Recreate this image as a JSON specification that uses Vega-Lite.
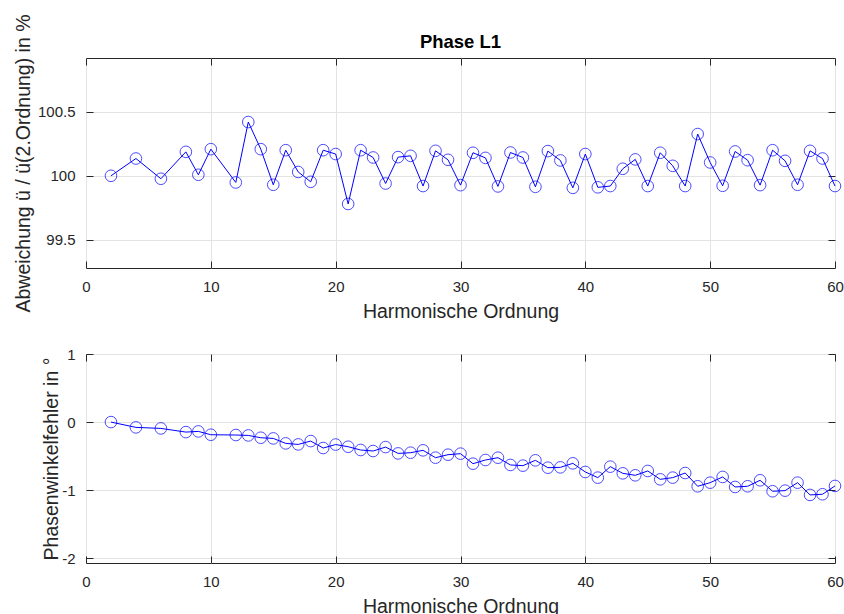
{
  "$schema": "https://vega.github.io/schema/vega-lite/v6.json",
  "background": "white",
  "padding": {"left": 12, "top": 13, "right": 8, "bottom": 0},
  "bounds": "flush",
  "spacing": 86,
  "config": {
    "font": "Liberation Sans",
    "view": {"stroke": "#262626", "strokeWidth": 1},
    "axis": {
      "labelFont": "Liberation Sans",
      "titleFont": "Liberation Sans",
      "labelFontSize": 15,
      "titleFontSize": 19.5,
      "titleFontWeight": "normal",
      "labelColor": "#262626",
      "titleColor": "#262626",
      "labelFlush": false,
      "domain": false,
      "tickColor": "#262626",
      "tickSize": -7,
      "gridColor": "#e3e3e3",
      "gridWidth": 1
    }
  },
  "datasets": {
    "h": [
      {"n": 2, "abw": 100.00, "phase": 0.00},
      {"n": 4, "abw": 100.135, "phase": -0.078},
      {"n": 6, "abw": 99.977, "phase": -0.093},
      {"n": 8, "abw": 100.187, "phase": -0.147},
      {"n": 9, "abw": 100.008, "phase": -0.137},
      {"n": 10, "abw": 100.208, "phase": -0.186},
      {"n": 12, "abw": 99.948, "phase": -0.19},
      {"n": 13, "abw": 100.42, "phase": -0.196},
      {"n": 14, "abw": 100.208, "phase": -0.23},
      {"n": 15, "abw": 99.93, "phase": -0.24},
      {"n": 16, "abw": 100.2, "phase": -0.313},
      {"n": 17, "abw": 100.03, "phase": -0.328},
      {"n": 18, "abw": 99.953, "phase": -0.279},
      {"n": 19, "abw": 100.2, "phase": -0.381},
      {"n": 20, "abw": 100.17, "phase": -0.33},
      {"n": 21, "abw": 99.78, "phase": -0.362},
      {"n": 22, "abw": 100.2, "phase": -0.41},
      {"n": 23, "abw": 100.143, "phase": -0.425},
      {"n": 24, "abw": 99.94, "phase": -0.367},
      {"n": 25, "abw": 100.146, "phase": -0.46},
      {"n": 26, "abw": 100.156, "phase": -0.45},
      {"n": 27, "abw": 99.92, "phase": -0.415},
      {"n": 28, "abw": 100.195, "phase": -0.523},
      {"n": 29, "abw": 100.125, "phase": -0.479},
      {"n": 30, "abw": 99.927, "phase": -0.464},
      {"n": 31, "abw": 100.18, "phase": -0.611},
      {"n": 32, "abw": 100.14, "phase": -0.557},
      {"n": 33, "abw": 99.917, "phase": -0.523},
      {"n": 34, "abw": 100.182, "phase": -0.63},
      {"n": 35, "abw": 100.143, "phase": -0.64},
      {"n": 36, "abw": 99.914, "phase": -0.562},
      {"n": 37, "abw": 100.193, "phase": -0.67},
      {"n": 38, "abw": 100.12, "phase": -0.665},
      {"n": 39, "abw": 99.906, "phase": -0.606},
      {"n": 40, "abw": 100.17, "phase": -0.733},
      {"n": 41, "abw": 99.91, "phase": -0.816},
      {"n": 42, "abw": 99.92, "phase": -0.655},
      {"n": 43, "abw": 100.055, "phase": -0.753},
      {"n": 44, "abw": 100.128, "phase": -0.782},
      {"n": 45, "abw": 99.92, "phase": -0.718},
      {"n": 46, "abw": 100.18, "phase": -0.841},
      {"n": 47, "abw": 100.078, "phase": -0.816},
      {"n": 48, "abw": 99.92, "phase": -0.748},
      {"n": 49, "abw": 100.326, "phase": -0.943},
      {"n": 50, "abw": 100.104, "phase": -0.89},
      {"n": 51, "abw": 99.922, "phase": -0.806},
      {"n": 52, "abw": 100.19, "phase": -0.953},
      {"n": 53, "abw": 100.122, "phase": -0.943},
      {"n": 54, "abw": 99.927, "phase": -0.855},
      {"n": 55, "abw": 100.2, "phase": -1.016},
      {"n": 56, "abw": 100.117, "phase": -1.007},
      {"n": 57, "abw": 99.93, "phase": -0.89},
      {"n": 58, "abw": 100.195, "phase": -1.07},
      {"n": 59, "abw": 100.135, "phase": -1.06},
      {"n": 60, "abw": 99.92, "phase": -0.938}
    ]
  },
  "vconcat": [
    {
      "width": 749,
      "height": 210,
      "title": {"text": "Phase L1", "fontSize": 18.5, "fontWeight": "bold", "font": "Liberation Sans", "color": "black", "offset": -38},
      "data": {"name": "h"},
      "layer": [
        {
          "mark": {"type": "line", "color": "#0000ff", "strokeWidth": 1},
          "encoding": {
            "x": {"field": "n", "type": "quantitative", "scale": {"domain": [0, 60], "nice": false},
              "axis": {"values": [0, 10, 20, 30, 40, 50, 60], "title": "Harmonische Ordnung", "labelPadding": 18, "titlePadding": 8}},
            "y": {"field": "abw", "type": "quantitative", "scale": {"domain": [99.28, 100.92], "nice": false, "zero": false},
              "axis": {"values": [99.5, 100, 100.5], "format": "~g", "title": "Abweichung ü / ü(2.Ordnung) in %", "labelPadding": 18, "titlePadding": 4}}
          }
        },
        {
          "mark": {"type": "point", "shape": "circle", "filled": false, "color": "#0000ff", "size": 135, "strokeWidth": 1},
          "encoding": {
            "x": {"field": "n", "type": "quantitative", "scale": {"domain": [0, 60], "nice": false},
              "axis": {"orient": "top", "values": [0, 10, 20, 30, 40, 50, 60], "labels": false, "title": null, "grid": false}},
            "y": {"field": "abw", "type": "quantitative", "scale": {"domain": [99.28, 100.92], "nice": false, "zero": false},
              "axis": {"orient": "right", "values": [99.5, 100, 100.5], "labels": false, "title": null, "grid": false}}
          }
        }
      ],
      "resolve": {"axis": {"x": "independent", "y": "independent"}}
    },
    {
      "width": 749,
      "height": 209,
      "data": {"name": "h"},
      "layer": [
        {
          "mark": {"type": "line", "color": "#0000ff", "strokeWidth": 1},
          "encoding": {
            "x": {"field": "n", "type": "quantitative", "scale": {"domain": [0, 60], "nice": false},
              "axis": {"values": [0, 10, 20, 30, 40, 50, 60], "title": "Harmonische Ordnung", "labelPadding": 18, "titlePadding": 8}},
            "y": {"field": "phase", "type": "quantitative", "scale": {"domain": [-2.07, 1], "nice": false, "zero": false},
              "axis": {"values": [-2, -1, 0, 1], "labelExpr": "'' + datum.value", "title": "Phasenwinkelfehler in °", "labelPadding": 18, "titlePadding": 0}}
          }
        },
        {
          "mark": {"type": "point", "shape": "circle", "filled": false, "color": "#0000ff", "size": 135, "strokeWidth": 1},
          "encoding": {
            "x": {"field": "n", "type": "quantitative", "scale": {"domain": [0, 60], "nice": false},
              "axis": {"orient": "top", "values": [0, 10, 20, 30, 40, 50, 60], "labels": false, "title": null, "grid": false}},
            "y": {"field": "phase", "type": "quantitative", "scale": {"domain": [-2.07, 1], "nice": false, "zero": false},
              "axis": {"orient": "right", "values": [-2, -1, 0, 1], "labels": false, "title": null, "grid": false}}
          }
        }
      ],
      "resolve": {"axis": {"x": "independent", "y": "independent"}}
    }
  ]
}
